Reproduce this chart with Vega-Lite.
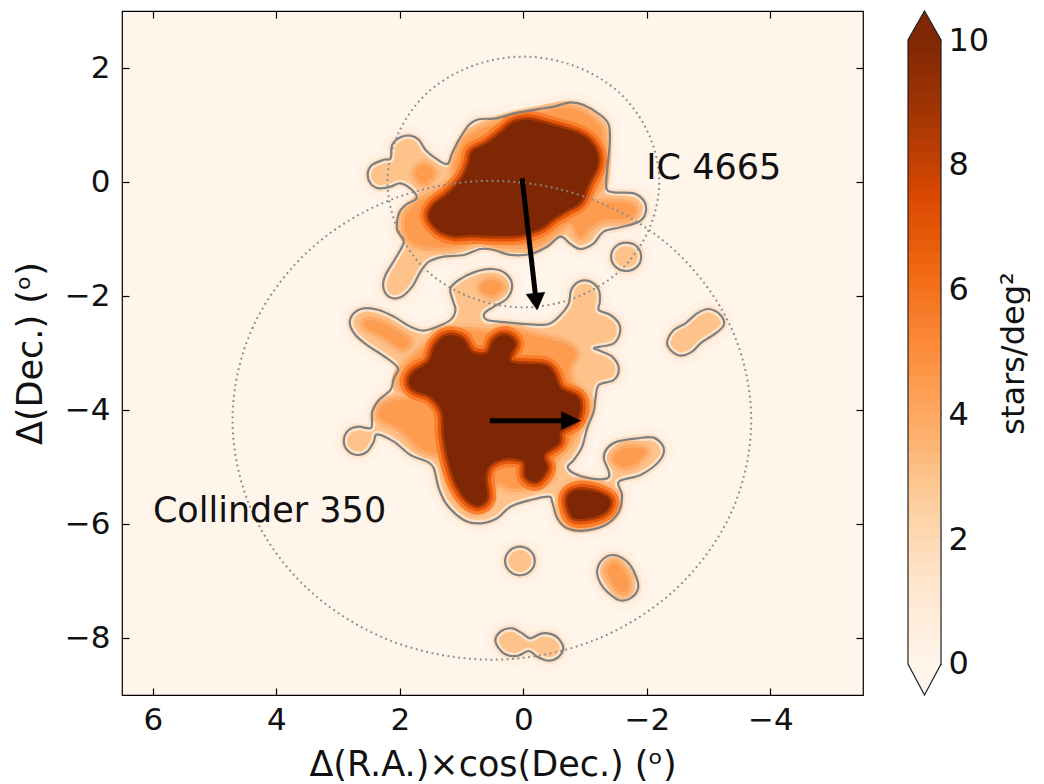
{"$schema":"https://vega.github.io/schema/vega-lite/v6.json","padding":{"left":12,"top":8,"right":0,"bottom":0},"background":"white","spacing":40,
"config":{"font":"DejaVu Sans","axis":{"grid":false,"domain":false,"tickColor":"black","tickWidth":1.2,"labelColor":"#111","titleColor":"#111","labelFont":"DejaVu Sans","titleFont":"DejaVu Sans","labelFontSize":31,"titleFontSize":35,"titleFontWeight":"normal","zindex":1}},
"datasets":{
"contours":[
{"part":"U","level":3,"i":0,"x":2.52,"y":0.15},{"part":"U","level":3,"i":1,"x":2.45,"y":0.3},{"part":"U","level":3,"i":2,"x":2.26,"y":0.39},{"part":"U","level":3,"i":3,"x":2.15,"y":0.415},{"part":"U","level":3,"i":4,"x":2.125,"y":0.65},{"part":"U","level":3,"i":5,"x":1.99,"y":0.784},{"part":"U","level":3,"i":6,"x":1.83,"y":0.813},{"part":"U","level":3,"i":7,"x":1.69,"y":0.737},{"part":"U","level":3,"i":8,"x":1.585,"y":0.561},{"part":"U","level":3,"i":9,"x":1.42,"y":0.415},{"part":"U","level":3,"i":10,"x":1.235,"y":0.316},{"part":"U","level":3,"i":11,"x":1.155,"y":0.503},{"part":"U","level":3,"i":12,"x":1.045,"y":0.737},{"part":"U","level":3,"i":13,"x":0.884,"y":1.0},{"part":"U","level":3,"i":14,"x":0.72,"y":1.1},{"part":"U","level":3,"i":15,"x":0.425,"y":1.117},{"part":"U","level":3,"i":16,"x":0.155,"y":1.205},{"part":"U","level":3,"i":17,"x":-0.223,"y":1.275},{"part":"U","level":3,"i":18,"x":-0.493,"y":1.322},{"part":"U","level":3,"i":19,"x":-0.763,"y":1.398},{"part":"U","level":3,"i":20,"x":-0.98,"y":1.351},{"part":"U","level":3,"i":21,"x":-1.25,"y":1.175},{"part":"U","level":3,"i":22,"x":-1.384,"y":1.0},{"part":"U","level":3,"i":23,"x":-1.4,"y":0.678},{"part":"U","level":3,"i":24,"x":-1.357,"y":0.21},{"part":"U","level":3,"i":25,"x":-1.346,"y":-0.11},{"part":"U","level":3,"i":26,"x":-1.465,"y":-0.181},{"part":"U","level":3,"i":27,"x":-1.79,"y":-0.199},{"part":"U","level":3,"i":28,"x":-1.96,"y":-0.345},{"part":"U","level":3,"i":29,"x":-1.977,"y":-0.55},{"part":"U","level":3,"i":30,"x":-1.87,"y":-0.696},{"part":"U","level":3,"i":31,"x":-1.572,"y":-0.795},{"part":"U","level":3,"i":32,"x":-1.3,"y":-0.871},{"part":"U","level":3,"i":33,"x":-1.14,"y":-1.076},{"part":"U","level":3,"i":34,"x":-0.925,"y":-1.175},{"part":"U","level":3,"i":35,"x":-0.763,"y":-1.088},{"part":"U","level":3,"i":36,"x":-0.6,"y":-0.959},{"part":"U","level":3,"i":37,"x":-0.385,"y":-1.135},{"part":"U","level":3,"i":38,"x":-0.115,"y":-1.263},{"part":"U","level":3,"i":39,"x":0.209,"y":-1.28},{"part":"U","level":3,"i":40,"x":0.479,"y":-1.193},{"part":"U","level":3,"i":41,"x":0.695,"y":-1.175},{"part":"U","level":3,"i":42,"x":0.965,"y":-1.28},{"part":"U","level":3,"i":43,"x":1.289,"y":-1.31},{"part":"U","level":3,"i":44,"x":1.531,"y":-1.398},{"part":"U","level":3,"i":45,"x":1.666,"y":-1.573},{"part":"U","level":3,"i":46,"x":1.8,"y":-1.836},{"part":"U","level":3,"i":47,"x":1.99,"y":-2.023},{"part":"U","level":3,"i":48,"x":2.18,"y":-2.012},{"part":"U","level":3,"i":49,"x":2.27,"y":-1.836},{"part":"U","level":3,"i":50,"x":2.233,"y":-1.632},{"part":"U","level":3,"i":51,"x":2.071,"y":-1.339},{"part":"U","level":3,"i":52,"x":1.936,"y":-1.047},{"part":"U","level":3,"i":53,"x":2.044,"y":-0.842},{"part":"U","level":3,"i":54,"x":2.017,"y":-0.55},{"part":"U","level":3,"i":55,"x":1.91,"y":-0.404},{"part":"U","level":3,"i":56,"x":1.731,"y":-0.287},{"part":"U","level":3,"i":57,"x":1.801,"y":-0.14},{"part":"U","level":3,"i":58,"x":1.99,"y":-0.023},{"part":"U","level":3,"i":59,"x":2.152,"y":-0.082},{"part":"U","level":3,"i":60,"x":2.341,"y":-0.111},{"part":"U","level":3,"i":61,"x":2.476,"y":-0.023},
{"part":"L","level":3,"i":0,"x":2.811,"y":-2.479},{"part":"L","level":3,"i":1,"x":2.746,"y":-2.304},{"part":"L","level":3,"i":2,"x":2.584,"y":-2.216},{"part":"L","level":3,"i":3,"x":2.341,"y":-2.245},{"part":"L","level":3,"i":4,"x":2.098,"y":-2.362},{"part":"L","level":3,"i":5,"x":1.828,"y":-2.538},{"part":"L","level":3,"i":6,"x":1.612,"y":-2.608},{"part":"L","level":3,"i":7,"x":1.397,"y":-2.538},{"part":"L","level":3,"i":8,"x":1.181,"y":-2.421},{"part":"L","level":3,"i":9,"x":1.1,"y":-2.245},{"part":"L","level":3,"i":10,"x":1.154,"y":-2.041},{"part":"L","level":3,"i":11,"x":1.181,"y":-1.865},{"part":"L","level":3,"i":12,"x":1.046,"y":-1.719},{"part":"L","level":3,"i":13,"x":0.803,"y":-1.585},{"part":"L","level":3,"i":14,"x":0.506,"y":-1.526},{"part":"L","level":3,"i":15,"x":0.29,"y":-1.602},{"part":"L","level":3,"i":16,"x":0.182,"y":-1.807},{"part":"L","level":3,"i":17,"x":0.263,"y":-2.041},{"part":"L","level":3,"i":18,"x":0.479,"y":-2.187},{"part":"L","level":3,"i":19,"x":0.63,"y":-2.304},{"part":"L","level":3,"i":20,"x":0.587,"y":-2.421},{"part":"L","level":3,"i":21,"x":0.263,"y":-2.462},{"part":"L","level":3,"i":22,"x":-0.115,"y":-2.497},{"part":"L","level":3,"i":23,"x":-0.412,"y":-2.491},{"part":"L","level":3,"i":24,"x":-0.601,"y":-2.333},{"part":"L","level":3,"i":25,"x":-0.736,"y":-2.129},{"part":"L","level":3,"i":26,"x":-0.774,"y":-1.895},{"part":"L","level":3,"i":27,"x":-0.898,"y":-1.748},{"part":"L","level":3,"i":28,"x":-1.087,"y":-1.748},{"part":"L","level":3,"i":29,"x":-1.222,"y":-1.895},{"part":"L","level":3,"i":30,"x":-1.238,"y":-2.099},{"part":"L","level":3,"i":31,"x":-1.222,"y":-2.245},{"part":"L","level":3,"i":32,"x":-1.41,"y":-2.333},{"part":"L","level":3,"i":33,"x":-1.545,"y":-2.479},{"part":"L","level":3,"i":34,"x":-1.562,"y":-2.655},{"part":"L","level":3,"i":35,"x":-1.464,"y":-2.83},{"part":"L","level":3,"i":36,"x":-1.249,"y":-2.889},{"part":"L","level":3,"i":37,"x":-1.14,"y":-2.918},{"part":"L","level":3,"i":38,"x":-1.249,"y":-2.965},{"part":"L","level":3,"i":39,"x":-1.437,"y":-3.064},{"part":"L","level":3,"i":40,"x":-1.545,"y":-3.269},{"part":"L","level":3,"i":41,"x":-1.464,"y":-3.474},{"part":"L","level":3,"i":42,"x":-1.222,"y":-3.561},{"part":"L","level":3,"i":43,"x":-1.168,"y":-3.795},{"part":"L","level":3,"i":44,"x":-1.14,"y":-4.029},{"part":"L","level":3,"i":45,"x":-1.032,"y":-4.321},{"part":"L","level":3,"i":46,"x":-0.952,"y":-4.643},{"part":"L","level":3,"i":47,"x":-0.817,"y":-4.877},{"part":"L","level":3,"i":48,"x":-0.719,"y":-4.994},{"part":"L","level":3,"i":49,"x":-0.817,"y":-5.111},{"part":"L","level":3,"i":50,"x":-1.087,"y":-5.199},{"part":"L","level":3,"i":51,"x":-1.357,"y":-5.199},{"part":"L","level":3,"i":52,"x":-1.384,"y":-5.082},{"part":"L","level":3,"i":53,"x":-1.303,"y":-4.848},{"part":"L","level":3,"i":54,"x":-1.357,"y":-4.672},{"part":"L","level":3,"i":55,"x":-1.518,"y":-4.555},{"part":"L","level":3,"i":56,"x":-1.842,"y":-4.497},{"part":"L","level":3,"i":57,"x":-2.112,"y":-4.485},{"part":"L","level":3,"i":58,"x":-2.274,"y":-4.672},{"part":"L","level":3,"i":59,"x":-2.193,"y":-4.906},{"part":"L","level":3,"i":60,"x":-1.896,"y":-5.14},{"part":"L","level":3,"i":61,"x":-1.545,"y":-5.257},{"part":"L","level":3,"i":62,"x":-1.599,"y":-5.491},{"part":"L","level":3,"i":63,"x":-1.545,"y":-5.784},{"part":"L","level":3,"i":64,"x":-1.329,"y":-6.017},{"part":"L","level":3,"i":65,"x":-0.979,"y":-6.117},{"part":"L","level":3,"i":66,"x":-0.709,"y":-6.076},{"part":"L","level":3,"i":67,"x":-0.547,"y":-5.9},{"part":"L","level":3,"i":68,"x":-0.466,"y":-5.608},{"part":"L","level":3,"i":69,"x":-0.412,"y":-5.52},{"part":"L","level":3,"i":70,"x":-0.115,"y":-5.579},{"part":"L","level":3,"i":71,"x":0.209,"y":-5.696},{"part":"L","level":3,"i":72,"x":0.425,"y":-5.9},{"part":"L","level":3,"i":73,"x":0.695,"y":-5.988},{"part":"L","level":3,"i":74,"x":0.965,"y":-5.93},{"part":"L","level":3,"i":75,"x":1.235,"y":-5.667},{"part":"L","level":3,"i":76,"x":1.37,"y":-5.374},{"part":"L","level":3,"i":77,"x":1.451,"y":-5.023},{"part":"L","level":3,"i":78,"x":1.559,"y":-4.906},{"part":"L","level":3,"i":79,"x":1.828,"y":-4.789},{"part":"L","level":3,"i":80,"x":2.098,"y":-4.555},{"part":"L","level":3,"i":81,"x":2.368,"y":-4.427},{"part":"L","level":3,"i":82,"x":2.422,"y":-4.555},{"part":"L","level":3,"i":83,"x":2.53,"y":-4.731},{"part":"L","level":3,"i":84,"x":2.692,"y":-4.789},{"part":"L","level":3,"i":85,"x":2.854,"y":-4.702},{"part":"L","level":3,"i":86,"x":2.908,"y":-4.526},{"part":"L","level":3,"i":87,"x":2.827,"y":-4.351},{"part":"L","level":3,"i":88,"x":2.665,"y":-4.292},{"part":"L","level":3,"i":89,"x":2.465,"y":-4.31},{"part":"L","level":3,"i":90,"x":2.449,"y":-4.029},{"part":"L","level":3,"i":91,"x":2.341,"y":-3.824},{"part":"L","level":3,"i":92,"x":2.152,"y":-3.649},{"part":"L","level":3,"i":93,"x":2.098,"y":-3.444},{"part":"L","level":3,"i":94,"x":2.028,"y":-3.269},{"part":"L","level":3,"i":95,"x":2.206,"y":-3.094},{"part":"L","level":3,"i":96,"x":2.53,"y":-2.86},{"part":"L","level":3,"i":97,"x":2.719,"y":-2.684},
{"part":"R","level":3,"i":0,"x":-2.328,"y":-2.801},{"part":"R","level":3,"i":1,"x":-2.436,"y":-2.596},{"part":"R","level":3,"i":2,"x":-2.625,"y":-2.479},{"part":"R","level":3,"i":3,"x":-2.814,"y":-2.304},{"part":"R","level":3,"i":4,"x":-3.003,"y":-2.228},{"part":"R","level":3,"i":5,"x":-3.192,"y":-2.333},{"part":"R","level":3,"i":6,"x":-3.246,"y":-2.509},{"part":"R","level":3,"i":7,"x":-3.111,"y":-2.655},{"part":"R","level":3,"i":8,"x":-2.868,"y":-2.83},{"part":"R","level":3,"i":9,"x":-2.733,"y":-2.977},{"part":"R","level":3,"i":10,"x":-2.544,"y":-3.047},{"part":"R","level":3,"i":11,"x":-2.382,"y":-2.947},
{"part":"C1","level":3,"i":0,"x":-1.421,"y":-1.31},{"part":"C1","level":3,"i":1,"x":-1.491,"y":-1.135},{"part":"C1","level":3,"i":2,"x":-1.664,"y":-1.064},{"part":"C1","level":3,"i":3,"x":-1.842,"y":-1.135},{"part":"C1","level":3,"i":4,"x":-1.907,"y":-1.31},{"part":"C1","level":3,"i":5,"x":-1.842,"y":-1.485},{"part":"C1","level":3,"i":6,"x":-1.664,"y":-1.561},{"part":"C1","level":3,"i":7,"x":-1.491,"y":-1.485},
{"part":"C2","level":3,"i":0,"x":0.296,"y":-6.649},{"part":"C2","level":3,"i":1,"x":0.225,"y":-6.473},{"part":"C2","level":3,"i":2,"x":0.058,"y":-6.397},{"part":"C2","level":3,"i":3,"x":-0.115,"y":-6.473},{"part":"C2","level":3,"i":4,"x":-0.185,"y":-6.649},{"part":"C2","level":3,"i":5,"x":-0.115,"y":-6.824},{"part":"C2","level":3,"i":6,"x":0.058,"y":-6.9},{"part":"C2","level":3,"i":7,"x":0.225,"y":-6.824},
{"part":"E","level":3,"i":0,"x":-1.194,"y":-6.836},{"part":"E","level":3,"i":1,"x":-1.275,"y":-6.631},{"part":"E","level":3,"i":2,"x":-1.464,"y":-6.544},{"part":"E","level":3,"i":3,"x":-1.68,"y":-6.661},{"part":"E","level":3,"i":4,"x":-1.815,"y":-6.894},{"part":"E","level":3,"i":5,"x":-1.858,"y":-7.128},{"part":"E","level":3,"i":6,"x":-1.734,"y":-7.304},{"part":"E","level":3,"i":7,"x":-1.545,"y":-7.333},{"part":"E","level":3,"i":8,"x":-1.356,"y":-7.187},{"part":"E","level":3,"i":9,"x":-1.248,"y":-7.041},
{"part":"B","level":3,"i":0,"x":0.452,"y":-8.064},{"part":"B","level":3,"i":1,"x":0.371,"y":-7.889},{"part":"B","level":3,"i":2,"x":0.182,"y":-7.83},{"part":"B","level":3,"i":3,"x":0.02,"y":-7.918},{"part":"B","level":3,"i":4,"x":-0.115,"y":-8.006},{"part":"B","level":3,"i":5,"x":-0.304,"y":-7.918},{"part":"B","level":3,"i":6,"x":-0.52,"y":-7.965},{"part":"B","level":3,"i":7,"x":-0.644,"y":-8.152},{"part":"B","level":3,"i":8,"x":-0.574,"y":-8.327},{"part":"B","level":3,"i":9,"x":-0.412,"y":-8.397},{"part":"B","level":3,"i":10,"x":-0.223,"y":-8.327},{"part":"B","level":3,"i":11,"x":-0.088,"y":-8.228},{"part":"B","level":3,"i":12,"x":0.101,"y":-8.316},{"part":"B","level":3,"i":13,"x":0.317,"y":-8.269},
{"part":"Um","level":4.5,"i":0,"x":1.909,"y":-0.608},{"part":"Um","level":4.5,"i":1,"x":1.72,"y":-0.374},{"part":"Um","level":4.5,"i":2,"x":1.45,"y":-0.199},{"part":"Um","level":4.5,"i":3,"x":1.154,"y":0.035},{"part":"Um","level":4.5,"i":4,"x":1.1,"y":0.357},{"part":"Um","level":4.5,"i":5,"x":0.938,"y":0.737},{"part":"Um","level":4.5,"i":6,"x":0.641,"y":0.941},{"part":"Um","level":4.5,"i":7,"x":0.263,"y":1.088},{"part":"Um","level":4.5,"i":8,"x":-0.223,"y":1.205},{"part":"Um","level":4.5,"i":9,"x":-0.763,"y":1.292},{"part":"Um","level":4.5,"i":10,"x":-1.194,"y":1.029},{"part":"Um","level":4.5,"i":11,"x":-1.302,"y":0.678},{"part":"Um","level":4.5,"i":12,"x":-1.276,"y":0.035},{"part":"Um","level":4.5,"i":13,"x":-1.14,"y":-0.316},{"part":"Um","level":4.5,"i":14,"x":-1.68,"y":-0.374},{"part":"Um","level":4.5,"i":15,"x":-1.815,"y":-0.491},{"part":"Um","level":4.5,"i":16,"x":-1.68,"y":-0.637},{"part":"Um","level":4.5,"i":17,"x":-1.302,"y":-0.667},{"part":"Um","level":4.5,"i":18,"x":-1.087,"y":-0.784},{"part":"Um","level":4.5,"i":19,"x":-0.925,"y":-0.959},{"part":"Um","level":4.5,"i":20,"x":-0.763,"y":-0.725},{"part":"Um","level":4.5,"i":21,"x":-0.493,"y":-0.901},{"part":"Um","level":4.5,"i":22,"x":-0.169,"y":-1.105},{"part":"Um","level":4.5,"i":23,"x":0.371,"y":-1.105},{"part":"Um","level":4.5,"i":24,"x":0.695,"y":-1.018},{"part":"Um","level":4.5,"i":25,"x":1.127,"y":-1.135},{"part":"Um","level":4.5,"i":26,"x":1.612,"y":-1.135},{"part":"Um","level":4.5,"i":27,"x":1.882,"y":-0.959},
{"part":"S1","level":4.5,"i":0,"x":1.747,"y":0.152},{"part":"S1","level":4.5,"i":1,"x":1.612,"y":0.298},{"part":"S1","level":4.5,"i":2,"x":1.45,"y":0.152},{"part":"S1","level":4.5,"i":3,"x":1.612,"y":-0.023},
{"part":"Lm","level":4.5,"i":0,"x":2.017,"y":-3.561},{"part":"Lm","level":4.5,"i":1,"x":1.909,"y":-3.21},{"part":"Lm","level":4.5,"i":2,"x":1.559,"y":-2.86},{"part":"Lm","level":4.5,"i":3,"x":1.343,"y":-2.655},{"part":"Lm","level":4.5,"i":4,"x":0.965,"y":-2.596},{"part":"Lm","level":4.5,"i":5,"x":0.587,"y":-2.626},{"part":"Lm","level":4.5,"i":6,"x":0.209,"y":-2.596},{"part":"Lm","level":4.5,"i":7,"x":-0.223,"y":-2.713},{"part":"Lm","level":4.5,"i":8,"x":-0.655,"y":-2.83},{"part":"Lm","level":4.5,"i":9,"x":-0.844,"y":-3.006},{"part":"Lm","level":4.5,"i":10,"x":-0.736,"y":-3.269},{"part":"Lm","level":4.5,"i":11,"x":-0.79,"y":-3.532},{"part":"Lm","level":4.5,"i":12,"x":-1.006,"y":-3.766},{"part":"Lm","level":4.5,"i":13,"x":-1.032,"y":-4.029},{"part":"Lm","level":4.5,"i":14,"x":-0.844,"y":-4.38},{"part":"Lm","level":4.5,"i":15,"x":-0.736,"y":-4.614},{"part":"Lm","level":4.5,"i":16,"x":-0.493,"y":-4.906},{"part":"Lm","level":4.5,"i":17,"x":-0.439,"y":-5.199},{"part":"Lm","level":4.5,"i":18,"x":-0.115,"y":-5.345},{"part":"Lm","level":4.5,"i":19,"x":0.209,"y":-5.374},{"part":"Lm","level":4.5,"i":20,"x":0.371,"y":-5.287},{"part":"Lm","level":4.5,"i":21,"x":0.533,"y":-5.433},{"part":"Lm","level":4.5,"i":22,"x":0.56,"y":-5.637},{"part":"Lm","level":4.5,"i":23,"x":0.749,"y":-5.754},{"part":"Lm","level":4.5,"i":24,"x":0.965,"y":-5.667},{"part":"Lm","level":4.5,"i":25,"x":1.181,"y":-5.316},{"part":"Lm","level":4.5,"i":26,"x":1.316,"y":-4.848},{"part":"Lm","level":4.5,"i":27,"x":1.667,"y":-4.672},{"part":"Lm","level":4.5,"i":28,"x":2.017,"y":-4.322},{"part":"Lm","level":4.5,"i":29,"x":2.314,"y":-4.146},{"part":"Lm","level":4.5,"i":30,"x":2.287,"y":-3.941},{"part":"Lm","level":4.5,"i":31,"x":2.044,"y":-3.824},{"part":"Lm","level":4.5,"i":32,"x":1.774,"y":-3.795},
{"part":"A","level":4.5,"i":0,"x":2.53,"y":-2.421},{"part":"A","level":4.5,"i":1,"x":2.233,"y":-2.509},{"part":"A","level":4.5,"i":2,"x":1.855,"y":-2.772},{"part":"A","level":4.5,"i":3,"x":1.963,"y":-2.918},{"part":"A","level":4.5,"i":4,"x":2.26,"y":-2.713},{"part":"A","level":4.5,"i":5,"x":2.557,"y":-2.538},
{"part":"S2","level":4.5,"i":0,"x":0.695,"y":-1.854},{"part":"S2","level":4.5,"i":1,"x":0.533,"y":-1.719},{"part":"S2","level":4.5,"i":2,"x":0.344,"y":-1.836},{"part":"S2","level":4.5,"i":3,"x":0.506,"y":-1.982},
{"part":"S3","level":4.5,"i":0,"x":-1.464,"y":-4.848},{"part":"S3","level":4.5,"i":1,"x":-1.653,"y":-4.672},{"part":"S3","level":4.5,"i":2,"x":-1.977,"y":-4.702},{"part":"S3","level":4.5,"i":3,"x":-1.842,"y":-4.906},{"part":"S3","level":4.5,"i":4,"x":-1.626,"y":-4.994},
{"part":"S4","level":4.5,"i":0,"x":-0.628,"y":-5.55},{"part":"S4","level":4.5,"i":1,"x":-0.817,"y":-5.316},{"part":"S4","level":4.5,"i":2,"x":-1.249,"y":-5.345},{"part":"S4","level":4.5,"i":3,"x":-1.492,"y":-5.55},{"part":"S4","level":4.5,"i":4,"x":-1.41,"y":-5.842},{"part":"S4","level":4.5,"i":5,"x":-1.033,"y":-6.017},{"part":"S4","level":4.5,"i":6,"x":-0.709,"y":-5.959},
{"part":"S5","level":4.5,"i":0,"x":-1.356,"y":-6.836},{"part":"S5","level":4.5,"i":1,"x":-1.491,"y":-6.69},{"part":"S5","level":4.5,"i":2,"x":-1.68,"y":-6.924},{"part":"S5","level":4.5,"i":3,"x":-1.68,"y":-7.158},{"part":"S5","level":4.5,"i":4,"x":-1.545,"y":-7.158},
{"part":"Uc","level":10,"i":0,"x":1.531,"y":-0.608},{"part":"Uc","level":10,"i":1,"x":1.45,"y":-0.404},{"part":"Uc","level":10,"i":2,"x":1.208,"y":-0.199},{"part":"Uc","level":10,"i":3,"x":0.992,"y":0.064},{"part":"Uc","level":10,"i":4,"x":0.884,"y":0.327},{"part":"Uc","level":10,"i":5,"x":0.83,"y":0.532},{"part":"Uc","level":10,"i":6,"x":0.587,"y":0.678},{"part":"Uc","level":10,"i":7,"x":0.344,"y":0.883},{"part":"Uc","level":10,"i":8,"x":0.155,"y":1.047},{"part":"Uc","level":10,"i":9,"x":-0.115,"y":1.088},{"part":"Uc","level":10,"i":10,"x":-0.439,"y":1.0},{"part":"Uc","level":10,"i":11,"x":-0.817,"y":0.883},{"part":"Uc","level":10,"i":12,"x":-1.06,"y":0.737},{"part":"Uc","level":10,"i":13,"x":-1.194,"y":0.503},{"part":"Uc","level":10,"i":14,"x":-1.194,"y":0.269},{"part":"Uc","level":10,"i":15,"x":-1.06,"y":-0.023},{"part":"Uc","level":10,"i":16,"x":-0.925,"y":-0.345},{"part":"Uc","level":10,"i":17,"x":-0.709,"y":-0.491},{"part":"Uc","level":10,"i":18,"x":-0.493,"y":-0.637},{"part":"Uc","level":10,"i":19,"x":-0.277,"y":-0.813},{"part":"Uc","level":10,"i":20,"x":0.047,"y":-0.93},{"part":"Uc","level":10,"i":21,"x":0.425,"y":-0.947},{"part":"Uc","level":10,"i":22,"x":0.803,"y":-0.93},{"part":"Uc","level":10,"i":23,"x":1.127,"y":-0.942},{"part":"Uc","level":10,"i":24,"x":1.37,"y":-0.842},
{"part":"Lc","level":10,"i":0,"x":1.856,"y":-3.503},{"part":"Lc","level":10,"i":1,"x":1.774,"y":-3.327},{"part":"Lc","level":10,"i":2,"x":1.532,"y":-3.152},{"part":"Lc","level":10,"i":3,"x":1.424,"y":-2.86},{"part":"Lc","level":10,"i":4,"x":1.235,"y":-2.696},{"part":"Lc","level":10,"i":5,"x":0.992,"y":-2.743},{"part":"Lc","level":10,"i":6,"x":0.83,"y":-2.988},{"part":"Lc","level":10,"i":7,"x":0.587,"y":-3.006},{"part":"Lc","level":10,"i":8,"x":0.479,"y":-2.772},{"part":"Lc","level":10,"i":9,"x":0.29,"y":-2.684},{"part":"Lc","level":10,"i":10,"x":0.128,"y":-2.83},{"part":"Lc","level":10,"i":11,"x":0.209,"y":-3.152},{"part":"Lc","level":10,"i":12,"x":-0.331,"y":-3.21},{"part":"Lc","level":10,"i":13,"x":-0.493,"y":-3.357},{"part":"Lc","level":10,"i":14,"x":-0.601,"y":-3.62},{"part":"Lc","level":10,"i":15,"x":-0.871,"y":-3.766},{"part":"Lc","level":10,"i":16,"x":-0.925,"y":-3.971},{"part":"Lc","level":10,"i":17,"x":-0.844,"y":-4.205},{"part":"Lc","level":10,"i":18,"x":-0.601,"y":-4.38},{"part":"Lc","level":10,"i":19,"x":-0.574,"y":-4.585},{"part":"Lc","level":10,"i":20,"x":-0.331,"y":-4.789},{"part":"Lc","level":10,"i":21,"x":-0.385,"y":-5.023},{"part":"Lc","level":10,"i":22,"x":-0.223,"y":-5.257},{"part":"Lc","level":10,"i":23,"x":-0.034,"y":-5.17},{"part":"Lc","level":10,"i":24,"x":-0.007,"y":-4.906},{"part":"Lc","level":10,"i":25,"x":0.263,"y":-4.848},{"part":"Lc","level":10,"i":26,"x":0.533,"y":-4.965},{"part":"Lc","level":10,"i":27,"x":0.614,"y":-5.199},{"part":"Lc","level":10,"i":28,"x":0.587,"y":-5.55},{"part":"Lc","level":10,"i":29,"x":0.749,"y":-5.678},{"part":"Lc","level":10,"i":30,"x":0.965,"y":-5.52},{"part":"Lc","level":10,"i":31,"x":1.127,"y":-5.199},{"part":"Lc","level":10,"i":32,"x":1.235,"y":-4.789},{"part":"Lc","level":10,"i":33,"x":1.289,"y":-4.439},{"part":"Lc","level":10,"i":34,"x":1.316,"y":-4.029},{"part":"Lc","level":10,"i":35,"x":1.505,"y":-3.766},{"part":"Lc","level":10,"i":36,"x":1.774,"y":-3.649},
{"part":"Sc","level":10,"i":0,"x":-0.708,"y":-5.55},{"part":"Sc","level":10,"i":1,"x":-0.871,"y":-5.404},{"part":"Sc","level":10,"i":2,"x":-1.194,"y":-5.444},{"part":"Sc","level":10,"i":3,"x":-1.4,"y":-5.579},{"part":"Sc","level":10,"i":4,"x":-1.329,"y":-5.784},{"part":"Sc","level":10,"i":5,"x":-1.033,"y":-5.9},{"part":"Sc","level":10,"i":6,"x":-0.79,"y":-5.871}
],
"circles":[
{"part":"IC","i":0,"x":2.2,"y":0},{"part":"IC","i":1,"x":2.03,"y":0.84},{"part":"IC","i":2,"x":1.56,"y":1.56},{"part":"IC","i":3,"x":0.84,"y":2.03},{"part":"IC","i":4,"x":0,"y":2.2},{"part":"IC","i":5,"x":-0.84,"y":2.03},{"part":"IC","i":6,"x":-1.56,"y":1.56},{"part":"IC","i":7,"x":-2.03,"y":0.84},{"part":"IC","i":8,"x":-2.2,"y":0},{"part":"IC","i":9,"x":-2.03,"y":-0.84},{"part":"IC","i":10,"x":-1.56,"y":-1.56},{"part":"IC","i":11,"x":-0.84,"y":-2.03},{"part":"IC","i":12,"x":0,"y":-2.2},{"part":"IC","i":13,"x":0.84,"y":-2.03},{"part":"IC","i":14,"x":1.56,"y":-1.56},{"part":"IC","i":15,"x":2.03,"y":-0.84},
{"part":"Cr","i":0,"x":4.71,"y":-4.18},{"part":"Cr","i":1,"x":4.39,"y":-2.57},{"part":"Cr","i":2,"x":3.48,"y":-1.21},{"part":"Cr","i":3,"x":2.12,"y":-0.3},{"part":"Cr","i":4,"x":0.51,"y":0.02},{"part":"Cr","i":5,"x":-1.1,"y":-0.3},{"part":"Cr","i":6,"x":-2.46,"y":-1.21},{"part":"Cr","i":7,"x":-3.37,"y":-2.57},{"part":"Cr","i":8,"x":-3.69,"y":-4.18},{"part":"Cr","i":9,"x":-3.37,"y":-5.79},{"part":"Cr","i":10,"x":-2.46,"y":-7.15},{"part":"Cr","i":11,"x":-1.1,"y":-8.06},{"part":"Cr","i":12,"x":0.51,"y":-8.38},{"part":"Cr","i":13,"x":2.12,"y":-8.06},{"part":"Cr","i":14,"x":3.48,"y":-7.15},{"part":"Cr","i":15,"x":4.39,"y":-5.79}
],
"shafts":[{"part":"a1","i":0,"x":0.02,"y":0.065},{"part":"a1","i":1,"x":-0.196,"y":-1.99},{"part":"a2","i":0,"x":0.543,"y":-4.187},{"part":"a2","i":1,"x":-0.628,"y":-4.187}],
"heads":[{"part":"a1","i":0,"x":-0.045,"y":-1.971},{"part":"a1","i":1,"x":-0.223,"y":-2.245},{"part":"a1","i":2,"x":-0.347,"y":-1.936},{"part":"a2","i":0,"x":-0.617,"y":-4.029},{"part":"a2","i":1,"x":-0.925,"y":-4.187},{"part":"a2","i":2,"x":-0.617,"y":-4.339}],
"labels":[{"part":"t1","label":"IC 4665","x":-1.99,"y":0.245},{"part":"t2","label":"Collinder 350","x":6.0,"y":-5.77}],
"cbar":[{"lo":0,"hi":0.22,"v":0.1},{"lo":0.2,"hi":0.42,"v":0.3},{"lo":0.4,"hi":0.62,"v":0.5},{"lo":0.6,"hi":0.82,"v":0.7},{"lo":0.8,"hi":1.02,"v":0.9},{"lo":1,"hi":1.22,"v":1.1},{"lo":1.2,"hi":1.42,"v":1.3},{"lo":1.4,"hi":1.62,"v":1.5},{"lo":1.6,"hi":1.82,"v":1.7},{"lo":1.8,"hi":2.02,"v":1.9},{"lo":2,"hi":2.22,"v":2.1},{"lo":2.2,"hi":2.42,"v":2.3},{"lo":2.4,"hi":2.62,"v":2.5},{"lo":2.6,"hi":2.82,"v":2.7},{"lo":2.8,"hi":3.02,"v":2.9},{"lo":3,"hi":3.22,"v":3.1},{"lo":3.2,"hi":3.42,"v":3.3},{"lo":3.4,"hi":3.62,"v":3.5},{"lo":3.6,"hi":3.82,"v":3.7},{"lo":3.8,"hi":4.02,"v":3.9},{"lo":4,"hi":4.22,"v":4.1},{"lo":4.2,"hi":4.42,"v":4.3},{"lo":4.4,"hi":4.62,"v":4.5},{"lo":4.6,"hi":4.82,"v":4.7},{"lo":4.8,"hi":5.02,"v":4.9},{"lo":5,"hi":5.22,"v":5.1},{"lo":5.2,"hi":5.42,"v":5.3},{"lo":5.4,"hi":5.62,"v":5.5},{"lo":5.6,"hi":5.82,"v":5.7},{"lo":5.8,"hi":6.02,"v":5.9},{"lo":6,"hi":6.22,"v":6.1},{"lo":6.2,"hi":6.42,"v":6.3},{"lo":6.4,"hi":6.62,"v":6.5},{"lo":6.6,"hi":6.82,"v":6.7},{"lo":6.8,"hi":7.02,"v":6.9},{"lo":7,"hi":7.22,"v":7.1},{"lo":7.2,"hi":7.42,"v":7.3},{"lo":7.4,"hi":7.62,"v":7.5},{"lo":7.6,"hi":7.82,"v":7.7},{"lo":7.8,"hi":8.02,"v":7.9},{"lo":8,"hi":8.22,"v":8.1},{"lo":8.2,"hi":8.42,"v":8.3},{"lo":8.4,"hi":8.62,"v":8.5},{"lo":8.6,"hi":8.82,"v":8.7},{"lo":8.8,"hi":9.02,"v":8.9},{"lo":9,"hi":9.22,"v":9.1},{"lo":9.2,"hi":9.42,"v":9.3},{"lo":9.4,"hi":9.62,"v":9.5},{"lo":9.6,"hi":9.82,"v":9.7},{"lo":9.8,"hi":10,"v":9.9}],
"cshape":[{"part":"top","level":10,"i":0,"x":0,"y":10},{"part":"top","level":10,"i":1,"x":0.5,"y":10.465},{"part":"top","level":10,"i":2,"x":1,"y":10},{"part":"bot","level":0,"i":0,"x":0,"y":0},{"part":"bot","level":0,"i":1,"x":0.5,"y":-0.497},{"part":"bot","level":0,"i":2,"x":1,"y":0}],
"coutline":[{"i":0,"x":0,"y":0},{"i":1,"x":0,"y":10},{"i":2,"x":0.5,"y":10.465},{"i":3,"x":1,"y":10},{"i":4,"x":1,"y":0},{"i":5,"x":0.5,"y":-0.497}]
},
"hconcat":[
{"width":741,"height":684,"view":{"stroke":"black","fill":"#fff5eb","strokeWidth":1.2},
"resolve":{"axis":{"x":"independent","y":"independent"}},
"encoding":{
"x":{"field":"x","type":"quantitative","scale":{"domain":[6.5,-5.5],"nice":false,"zero":false},"axis":null},
"y":{"field":"y","type":"quantitative","scale":{"domain":[-9,3],"nice":false,"zero":false},"axis":null},
"detail":{"field":"part"},"order":{"field":"i"}},
"layer":[
{"data":{"name":"contours"},"transform":[{"filter":"datum.level==3"}],"mark":{"type":"line","interpolate":"cardinal-closed","strokeWidth":20,"strokeJoin":"round","stroke":"#fff1e4"},"encoding":{
"x":{"field":"x","type":"quantitative","scale":{"domain":[6.5,-5.5],"nice":false,"zero":false},"axis":{"orient":"bottom","values":[6,4,2,0,-2,-4],"tickSize":-7,"labelPadding":17,"title":"Δ(R.A.)×cos(Dec.) (ᵒ)","titlePadding":12}},
"y":{"field":"y","type":"quantitative","scale":{"domain":[-9,3],"nice":false,"zero":false},"axis":{"orient":"left","values":[2,0,-2,-4,-6,-8],"tickSize":-7,"labelPadding":19,"title":"Δ(Dec.) (ᵒ)","titlePadding":16}}}},
{"data":{"name":"contours"},"transform":[{"filter":"datum.level==3"}],"mark":{"type":"line","filled":true,"interpolate":"cardinal-closed"},"encoding":{"color":{"field":"level","type":"quantitative","scale":{"domain":[0,1.25,2.5,3.75,5,6.25,7.5,8.75,10],"range":["#fff5eb","#fee6ce","#fdd0a2","#fdae6b","#fd8d3c","#f16913","#d94801","#a63603","#7f2704"]},"legend":null}}},
{"data":{"name":"contours"},"transform":[{"filter":"datum.level==3"}],"mark":{"type":"line","interpolate":"cardinal-closed","strokeWidth":7,"stroke":"#fee3c8"}},
{"data":{"name":"contours"},"transform":[{"filter":"datum.level==4.5"}],"mark":{"type":"line","interpolate":"cardinal-closed","strokeWidth":14,"stroke":"#fdbb82"}},
{"data":{"name":"contours"},"transform":[{"filter":"datum.level==4.5"}],"mark":{"type":"line","interpolate":"cardinal-closed","strokeWidth":7,"stroke":"#fdaa66"}},
{"data":{"name":"contours"},"transform":[{"filter":"datum.level==4.5"}],"mark":{"type":"line","filled":true,"interpolate":"cardinal-closed"},"encoding":{"color":{"field":"level","type":"quantitative","scale":{"domain":[0,1.25,2.5,3.75,5,6.25,7.5,8.75,10],"range":["#fff5eb","#fee6ce","#fdd0a2","#fdae6b","#fd8d3c","#f16913","#d94801","#a63603","#7f2704"]},"legend":null}}},
{"data":{"name":"contours"},"transform":[{"filter":"datum.level==10"}],"mark":{"type":"line","interpolate":"cardinal-closed","strokeWidth":18,"stroke":"#f97f2c"}},
{"data":{"name":"contours"},"transform":[{"filter":"datum.level==10"}],"mark":{"type":"line","interpolate":"cardinal-closed","strokeWidth":11,"stroke":"#e5560a"}},
{"data":{"name":"contours"},"transform":[{"filter":"datum.level==10"}],"mark":{"type":"line","interpolate":"cardinal-closed","strokeWidth":5,"stroke":"#a93a03"}},
{"data":{"name":"contours"},"transform":[{"filter":"datum.level==10"}],"mark":{"type":"line","filled":true,"interpolate":"cardinal-closed"},"encoding":{"color":{"field":"level","type":"quantitative","scale":{"domain":[0,1.25,2.5,3.75,5,6.25,7.5,8.75,10],"range":["#fff5eb","#fee6ce","#fdd0a2","#fdae6b","#fd8d3c","#f16913","#d94801","#a63603","#7f2704"]},"legend":null}}},
{"data":{"name":"contours"},"transform":[{"filter":"datum.level==3"}],"mark":{"type":"line","interpolate":"cardinal-closed","strokeWidth":2.2,"stroke":"#7f7f7f"}},
{"data":{"name":"circles"},"mark":{"type":"line","interpolate":"cardinal-closed","strokeWidth":2,"stroke":"#8a8a8a","strokeDash":[1.8,3.6]}},
{"data":{"name":"shafts"},"mark":{"type":"line","strokeWidth":5,"stroke":"black"}},
{"data":{"name":"heads"},"mark":{"type":"line","interpolate":"linear-closed","fill":"black","stroke":"black","strokeWidth":0.5}},
{"data":{"name":"labels"},"mark":{"type":"text","align":"left","baseline":"middle","font":"DejaVu Sans","fontSize":35,"color":"#111"},"encoding":{"text":{"field":"label"},"order":null,
"x":{"field":"x","type":"quantitative","scale":{"domain":[6.5,-5.5],"nice":false,"zero":false},"axis":{"orient":"top","values":[6,4,2,0,-2,-4],"tickSize":-7,"labels":false,"title":null}},
"y":{"field":"y","type":"quantitative","scale":{"domain":[-9,3],"nice":false,"zero":false},"axis":{"orient":"right","values":[2,0,-2,-4,-6,-8],"tickSize":-7,"labels":false,"title":null}}}}
]},
{"width":33,"height":684,"view":{"stroke":null},
"layer":[
{"data":{"name":"cbar"},"mark":{"type":"rect"},"encoding":{
"x":{"datum":0,"type":"quantitative","scale":{"domain":[0,1],"nice":false,"zero":false},"axis":null},"x2":{"datum":1},
"y":{"field":"lo","type":"quantitative","scale":{"domain":[-0.497,10.465],"nice":false,"zero":false},"axis":{"orient":"right","values":[0,2,4,6,8,10],"format":"d","tickSize":-8,"labelPadding":15,"labelFontSize":32,"title":"stars/deg²","titleFontSize":32,"titleAngle":270,"titlePadding":42}},"y2":{"field":"hi"},
"color":{"field":"v","type":"quantitative","scale":{"domain":[0,1.25,2.5,3.75,5,6.25,7.5,8.75,10],"range":["#fff5eb","#fee6ce","#fdd0a2","#fdae6b","#fd8d3c","#f16913","#d94801","#a63603","#7f2704"]},"legend":null}}},
{"data":{"name":"cshape"},"mark":{"type":"line","filled":true,"interpolate":"linear-closed"},"encoding":{
"x":{"field":"x","type":"quantitative","scale":{"domain":[0,1],"nice":false,"zero":false},"axis":null},
"y":{"field":"y","type":"quantitative","scale":{"domain":[-0.497,10.465],"nice":false,"zero":false}},"detail":{"field":"part"},"order":{"field":"i"},
"color":{"field":"level","type":"quantitative","scale":{"domain":[0,1.25,2.5,3.75,5,6.25,7.5,8.75,10],"range":["#fff5eb","#fee6ce","#fdd0a2","#fdae6b","#fd8d3c","#f16913","#d94801","#a63603","#7f2704"]},"legend":null}}},
{"data":{"name":"coutline"},"mark":{"type":"line","interpolate":"linear-closed","stroke":"#222","strokeWidth":1.2},"encoding":{
"x":{"field":"x","type":"quantitative","scale":{"domain":[0,1],"nice":false,"zero":false},"axis":null},
"y":{"field":"y","type":"quantitative","scale":{"domain":[-0.497,10.465],"nice":false,"zero":false}},"order":{"field":"i"}}}
]}
]}
